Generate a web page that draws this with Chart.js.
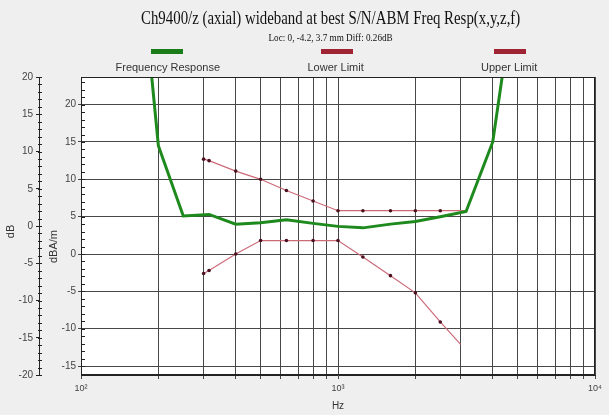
<!DOCTYPE html>
<html><head><meta charset="utf-8">
<script src="https://cdn.jsdelivr.net/npm/chart.js@4.4.1/dist/chart.umd.min.js"></script>
<style>
html,body{margin:0;padding:0;background:#efefef;}
#wrap{position:relative;width:609px;height:415px;overflow:hidden;background:#efefef;}
canvas{position:absolute;left:0;top:0;}
.t{position:absolute;white-space:nowrap;line-height:1;transform-origin:center center;}
.bar{position:absolute;height:5px;width:32px;}
</style></head><body>
<div id="wrap">
<canvas id="c" width="609" height="415"></canvas>
<div class="t" data-cx="330.5" data-cy="17" data-w="379" style="font-family:'Liberation Serif','Times New Roman',serif;font-size:19px;color:#111">Ch9400/z (axial) wideband at best S/N/ABM Freq Resp(x,y,z,f)</div>
<div class="t" data-cx="330" data-cy="37" data-w="124" style="font-family:'Liberation Serif','Times New Roman',serif;font-size:11px;color:#111">Loc: 0, -4.2, 3.7 mm Diff: 0.26dB</div>
<div class="bar" style="left:151px;top:49px;background:#1a7d1a;"></div>
<div class="bar" style="left:321px;top:49px;background:#9e2433;"></div>
<div class="bar" style="left:494px;top:49px;background:#9e2433;"></div>
<div class="t" data-cx="168" data-cy="67" style="font-family:'Liberation Sans',Arial,sans-serif;font-size:11px;color:#333">Frequency Response</div>
<div class="t" data-cx="335.5" data-cy="67" style="font-family:'Liberation Sans',Arial,sans-serif;font-size:11px;color:#333">Lower Limit</div>
<div class="t" data-cx="509" data-cy="67" style="font-family:'Liberation Sans',Arial,sans-serif;font-size:11px;color:#333">Upper Limit</div>
<div class="t" data-cx="10" data-cy="231" data-rot="1" style="font-family:'Liberation Sans',Arial,sans-serif;font-size:11px;color:#333">dB</div>
<div class="t" data-cx="53" data-cy="246" data-rot="1" style="font-family:'Liberation Sans',Arial,sans-serif;font-size:11px;color:#333">dBA/m</div>
</div>
<script>
// ---- data ----
const freqResponseHz = [160, 200, 250, 315, 400, 500, 630, 800, 1000, 1250, 1600, 2000, 2500, 3150, 4000, 5000];
const freqResponseDb = [49, 14.5, 5.1, 5.3, 4.0, 4.2, 4.6, 4.1, 3.7, 3.5, 4.0, 4.35, 5.0, 5.7, 15.0, 38];
const lowerLimitHz = [300, 315, 400, 500, 630, 800, 1000, 1250, 1600, 2000, 2500, 3000];
const lowerLimitDb = [-2.6, -2.2, 0, 1.8, 1.8, 1.8, 1.8, -0.4, -2.9, -5.2, -9.1, -12.1];
const upperLimitHz = [300, 315, 400, 500, 630, 800, 1000, 1250, 1600, 2000, 2500, 3150];
const upperLimitDb = [12.7, 12.5, 11.1, 10.0, 8.5, 7.1, 5.8, 5.8, 5.8, 5.8, 5.8, 5.8];
const xTicks = [100,200,300,400,500,600,700,800,900,1000,2000,3000,4000,5000,6000,7000,8000,9000,10000];
const xTickLabels = {100: '10²', 1000: '10³', 10000: '10⁴'};
const dbaTicks = [-15, -10, -5, 0, 5, 10, 15, 20];
const dbTicks = [-20, -15, -10, -5, 0, 5, 10, 15, 20];

// ---- position HTML texts ----
document.querySelectorAll('.t').forEach(el => {
  const w = el.offsetWidth, h = el.offsetHeight;
  const cx = +el.dataset.cx, cy = +el.dataset.cy;
  el.style.left = (cx - w / 2) + 'px';
  el.style.top = (cy - h / 2) + 'px';
  let tr = '';
  if (el.dataset.rot) tr += 'rotate(-90deg) ';
  if (el.dataset.w) tr += 'scaleX(' + (+el.dataset.w / w) + ')';
  el.style.transform = tr;
});

const toPts = (xs, ys) => xs.map((x, i) => ({x: x, y: ys[i]}));
const sans = "'Liberation Sans', Arial, sans-serif";
const gridCol = '#474747';

const bgPlugin = {
  id: 'bg',
  beforeDraw(chart) {
    const {ctx, chartArea: a} = chart;
    ctx.save();
    ctx.fillStyle = '#ffffff';
    ctx.fillRect(a.left, a.top, a.right - a.left, a.bottom - a.top);
    ctx.restore();
  },
  afterDraw(chart) {
    const {ctx, chartArea: a} = chart;
    ctx.save();
    ctx.strokeStyle = '#222';
    ctx.lineWidth = 1;
    ctx.strokeRect(Math.round(a.left) + 0.5, Math.round(a.top) + 0.5, Math.round(a.right - a.left) - 1, Math.round(a.bottom - a.top) - 1);
    // minor ticks
    const s2 = chart.scales.y2, s1 = chart.scales.y;
    ctx.beginPath();
    for (let v = -20; v <= 20; v++) {
      const y = Math.round(s2.getPixelForValue(v)) + 0.5;
      ctx.moveTo(s2.right - 1, y); ctx.lineTo(s2.right + 3, y);
    }
    for (let v = Math.ceil(s1.min); v <= Math.floor(s1.max); v++) {
      const y = Math.round(s1.getPixelForValue(v)) + 0.5;
      ctx.moveTo(a.left, y); ctx.lineTo(a.left + 4, y);
    }
    ctx.stroke();
    ctx.restore();
  }
};

new Chart(document.getElementById('c'), {
  type: 'scatter',
  data: {
    datasets: [
      {label: 'Frequency Response', data: toPts(freqResponseHz, freqResponseDb), showLine: true,
       borderColor: '#1e8a1e', borderWidth: 3, pointRadius: 0, tension: 0, clip: 0, yAxisID: 'y'},
      {label: 'Lower Limit', data: toPts(lowerLimitHz, lowerLimitDb), showLine: true,
       borderColor: '#cc6a78', borderWidth: 1.2, tension: 0, clip: 0, yAxisID: 'y',
       pointRadius: c => c.dataIndex === lowerLimitHz.length - 1 ? 0 : 1.8,
       pointBackgroundColor: '#4a1020', pointBorderWidth: 0},
      {label: 'Upper Limit', data: toPts(upperLimitHz, upperLimitDb), showLine: true,
       borderColor: '#cc6a78', borderWidth: 1.2, tension: 0, clip: 0, yAxisID: 'y',
       pointRadius: c => c.dataIndex === upperLimitHz.length - 1 ? 0 : 1.8,
       pointBackgroundColor: '#4a1020', pointBorderWidth: 0}
    ]
  },
  options: {
    responsive: false,
    animation: false,
    layout: {padding: {top: 77, right: 14, bottom: 0, left: 0}},
    plugins: {legend: {display: false}, tooltip: {enabled: false}, title: {display: false}},
    scales: {
      x: {
        type: 'logarithmic', position: 'bottom', min: 100, max: 10000,
        afterBuildTicks: s => { s.ticks = xTicks.map(v => ({value: v})); },
        afterFit: s => { s.height = 40; },
        ticks: {autoSkip: false, maxRotation: 0, minRotation: 0, padding: 4, color: '#444',
                font: {family: sans, size: 9}, callback: v => xTickLabels[v] || ''},
        grid: {color: gridCol, lineWidth: 1, tickLength: 4},
        border: {display: true, color: '#222'},
        title: {display: true, text: 'Hz', color: '#333', font: {family: sans, size: 10}, padding: {top: 0, bottom: 3}}
      },
      y: {
        type: 'linear', position: 'left', weight: 0, min: -16.2, max: 23.7,
        afterBuildTicks: s => { s.ticks = dbaTicks.map(v => ({value: v})); },
        afterFit: s => { s.width = 42; },
        ticks: {padding: 2, color: '#444', font: {family: sans, size: 10}},
        grid: {color: gridCol, lineWidth: 1, tickLength: 3},
        border: {display: true, color: '#222'}
      },
      y2: {
        type: 'linear', position: 'left', weight: 1, min: -20, max: 20,
        afterBuildTicks: s => { s.ticks = dbTicks.map(v => ({value: v})); },
        afterFit: s => { s.width = 39; },
        ticks: {padding: 3, color: '#444', font: {family: sans, size: 10}},
        grid: {drawOnChartArea: false, color: '#222', tickLength: 3},
        border: {display: true, color: '#222'}
      }
    }
  },
  plugins: [bgPlugin]
});
</script>
</body></html>
